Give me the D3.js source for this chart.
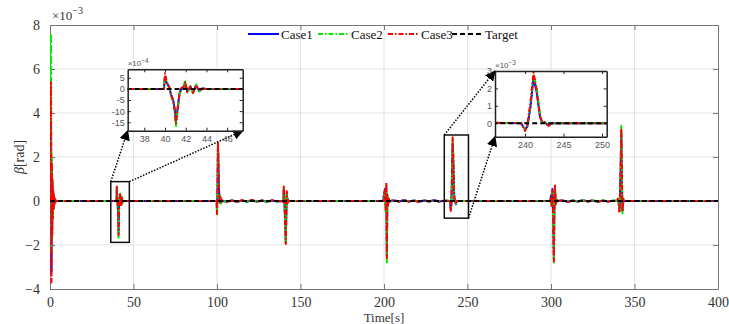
<!DOCTYPE html>
<html>
<head>
<meta charset="utf-8">
<script src="https://cdn.jsdelivr.net/npm/d3@7/dist/d3.min.js"></script>
<style>
  body { margin: 0; background: #fff; }
  svg { display: block; }
</style>
</head>
<body>
<div id="chart"></div>
<script>
// values are in units of 1e-3 rad (axis carries the x10^-3 exponent)
const time = [
  0, 0.6, 0.9, 1.1, 1.3, 1.5, 1.7, 1.9, 2.1, 2.3, 2.5, 2.7, 2.9, 3.1, 3.3, 3.5, 3.8, 4.2, 4.6,
  39.9, 40.0, 40.15, 40.4, 40.6, 40.8, 40.95, 41.05, 41.2, 41.4, 41.6, 41.8, 41.95, 42.15, 42.45, 42.7, 43.0, 43.3, 43.6, 44.0, 44.5,
  99.8, 100.0, 100.3, 100.6, 100.9, 101.2, 101.5, 101.8, 102.1, 102.5, 102.9, 103.3,
  106, 109, 112, 115, 118, 121, 124, 127, 130, 133, 136,
  139.8, 140.0, 140.3, 140.6, 140.9, 141.2, 141.5, 141.8, 142.1, 142.4, 142.8, 143.2,
  199.6, 200.0, 200.6, 201.0, 201.4, 201.7, 202.0, 202.4, 202.8, 203.2, 203.6,
  206, 209, 212, 215, 218, 221, 224, 227, 230, 233, 236,
  239.5, 240.0, 240.3, 240.7, 241.1, 241.5, 241.95, 242.2, 242.6, 243.05, 243.5, 244.0,
  299.6, 300.0, 300.5, 300.9, 301.3, 301.7, 302.0, 302.4, 302.8, 303.2, 303.6, 304.0,
  307, 310, 313, 316, 319, 322, 325, 328, 331, 334, 337,
  339.6, 340.0, 340.5, 341.0, 341.3, 341.7, 342.1, 342.5, 342.8, 343.2, 343.6, 344.0,
  400
];
const case1 = [
  0, 3.4, -3.2, 1.6, -1.5, 0.8, -0.7, 0.4, -0.35, 0.2, -0.15, 0.1, -0.08, 0.05, -0.03, 0.02, 0, 0, 0,
  0, 0.55, 0.28, 0.08, -0.28, -0.52, -0.95, -1.45, -0.95, -0.2, 0.02, 0.08, 0.25, -0.12, 0.1, -0.15, 0.15, -0.08, 0.02, 0, 0,
  0, -0.5, 0.45, 2.5, 1.5, 0.45, 0.1, -0.08, 0.12, -0.08, 0.04, 0,
  -0.02, 0.02, -0.03, 0.02, -0.02, 0.03, -0.02, 0.02, -0.03, 0.02, -0.01,
  0, 0.55, 0.08, -0.45, -1.1, -1.85, -0.55, 0.38, -0.08, 0.1, -0.03, 0,
  0, 0.3, 0.55, -0.3, 0.6, -2.5, 0.2, -0.15, 0.1, -0.04, 0,
  0.02, -0.02, 0.03, -0.02, 0.02, -0.03, 0.02, -0.02, 0.03, -0.02, 0.01,
  0, -0.38, -0.2, 0.9, 2.6, 1.8, 0.35, 0.05, 0.02, -0.15, 0, 0,
  0, 0.25, -0.2, 0.55, -0.7, -2.5, -0.4, 0.5, -0.1, 0.08, -0.02, 0,
  0.02, -0.03, 0.02, -0.02, 0.03, -0.02, 0.02, -0.03, 0.02, -0.02, 0.01,
  0, 0.08, -0.08, -0.45, 0.25, 1.4, 3.1, 0.7, -0.45, 0.1, -0.02, 0,
  0
];
const case2 = [
  0, 7.6, -2.4, 2.0, -1.2, 0.9, -0.8, 0.5, -0.4, 0.25, -0.2, 0.12, -0.1, 0.06, -0.04, 0.02, 0, 0, 0,
  0, 0.62, 0.30, 0.05, -0.3, -0.6, -1.1, -1.72, -1.05, -0.25, 0.0, 0.1, 0.40, -0.18, 0.15, -0.2, 0.2, -0.12, 0.03, -0.02, 0,
  0, -0.55, 0.4, 2.6, 1.7, 0.6, 0.2, -0.15, 0.2, -0.12, 0.05, 0,
  -0.03, 0.04, -0.04, 0.03, -0.04, 0.04, -0.03, 0.04, -0.04, 0.03, -0.02,
  0, 0.6, 0.05, -0.55, -1.3, -2.0, -0.7, 0.4, -0.12, 0.1, -0.03, 0,
  0, 0.25, 0.4, -0.5, 0.7, -2.8, 0.25, -0.2, 0.1, -0.05, 0,
  0.03, -0.04, 0.04, -0.03, 0.04, -0.04, 0.03, -0.04, 0.04, -0.03, 0.02,
  0, -0.35, -0.15, 1.0, 2.8, 2.1, 0.5, 0.0, 0.05, -0.12, 0, 0,
  0, 0.15, -0.3, 0.4, -0.9, -2.8, -0.6, 0.6, -0.2, 0.1, -0.03, 0,
  0.03, -0.04, 0.03, -0.03, 0.04, -0.03, 0.04, -0.04, 0.03, -0.03, 0.02,
  0, 0.1, -0.1, -0.5, 0.2, 1.3, 3.42, 0.9, -0.62, 0.1, -0.03, 0,
  0
];
const case3 = [
  0, 5.4, -3.7, 1.8, -1.6, 1.0, -0.8, 0.5, -0.4, 0.3, -0.2, 0.15, -0.1, 0.05, -0.03, 0.02, 0, 0, 0,
  0, 0.70, 0.35, 0.1, -0.3, -0.56, -1.0, -1.55, -1.0, -0.2, 0.05, 0.1, 0.3, -0.15, 0.12, -0.18, 0.18, -0.1, 0.02, 0, 0,
  0, -0.6, 0.5, 2.7, 1.6, 0.5, 0.15, -0.1, 0.15, -0.1, 0.05, 0,
  -0.04, 0.03, -0.05, 0.04, -0.03, 0.05, -0.04, 0.03, -0.05, 0.04, -0.02,
  0, 0.66, 0.1, -0.5, -1.2, -1.95, -0.6, 0.44, -0.1, 0.12, -0.04, 0,
  0, 0.3, 0.5, -0.4, 0.85, -2.6, 0.3, -0.2, 0.15, -0.05, 0,
  0.04, -0.03, 0.05, -0.04, 0.03, -0.05, 0.04, -0.03, 0.05, -0.04, 0.02,
  0, -0.45, -0.1, 1.2, 2.9, 1.9, 0.4, 0.1, 0.05, -0.15, 0, 0,
  0, 0.2, -0.3, 0.5, -0.8, -2.75, -0.5, 0.7, -0.15, 0.1, -0.03, 0,
  0.04, -0.05, 0.03, -0.04, 0.05, -0.03, 0.04, -0.05, 0.03, -0.04, 0.02,
  0, 0.1, -0.1, -0.55, 0.3, 1.5, 3.3, 0.8, -0.5, 0.15, -0.03, 0,
  0
];
const targetTime = [0, 400];
const target = [0, 0];

const seriesNames = ["Case1", "Case2", "Case3", "Target"];
const xTicks = [0, 50, 100, 150, 200, 250, 300, 350, 400];
const yTicks = [-4, -2, 0, 2, 4, 6, 8];
const inset1XTicks = [38, 40, 42, 44, 46];
const inset1YTicks = [-1.5, -1.0, -0.5, 0, 0.5];   // shown as x10^-4
const inset2XTicks = [240, 245, 250];
const inset2YTicks = [0, 1, 2, 3];

const W = 729, H = 324;
const m = {left: 50, right: 718, top: 25, bottom: 289};

const styles = {
  Case1: {color: "#0000ff", dash: null},
  Case2: {color: "#00ee00", dash: "5,2,1.5,2"},
  Case3: {color: "#ff0000", dash: "5,2,1.5,2"},
  Target: {color: "#000000", dash: "5,3"}
};

const series = [
  {name: "Case1", pts: d3.zip(time, case1)},
  {name: "Case2", pts: d3.zip(time, case2)},
  {name: "Case3", pts: d3.zip(time, case3)},
  {name: "Target", pts: d3.zip(targetTime, target)}
];

const svg = d3.select("#chart").append("svg")
  .attr("width", W).attr("height", H);

const x = d3.scaleLinear().domain([0, 400]).range([m.left, m.right]);
const y = d3.scaleLinear().domain([-4, 8]).range([m.bottom, m.top]);

const serif = "'Liberation Serif', 'Times New Roman', serif";
const sans = "'Liberation Sans', Arial, sans-serif";
const fmtMinus = v => (v < 0 ? "\u2212" + Math.abs(v) : String(v));

// grid
const grid = svg.append("g").attr("stroke", "#e3e3e3").attr("stroke-width", 1);
grid.selectAll("line.vx").data(xTicks.slice(1, -1)).join("line")
  .attr("x1", d => x(d)).attr("x2", d => x(d)).attr("y1", m.top).attr("y2", m.bottom);
grid.selectAll("line.hy").data(yTicks.slice(1, -1)).join("line")
  .attr("y1", d => y(d)).attr("y2", d => y(d)).attr("x1", m.left).attr("x2", m.right);

// clip
svg.append("clipPath").attr("id", "clipMain").append("rect")
  .attr("x", m.left).attr("y", m.top).attr("width", m.right - m.left).attr("height", m.bottom - m.top);

function drawLines(g, xs, ys, width) {
  const line = d3.line().x(d => xs(d[0])).y(d => ys(d[1]));
  series.forEach(s => {
    g.append("path")
      .datum(s.pts)
      .attr("d", line)
      .attr("fill", "none")
      .attr("stroke", styles[s.name].color)
      .attr("stroke-width", width)
      .attr("stroke-dasharray", styles[s.name].dash)
      .attr("stroke-linejoin", "round");
  });
}

// axes box with inward ticks on all sides
const axisColor = "#777";
const axB = svg.append("g").attr("transform", `translate(0,${m.bottom})`)
  .call(d3.axisBottom(x).tickValues(xTicks).tickSizeInner(-5).tickSizeOuter(0).tickPadding(8).tickFormat(d3.format("d")));
const axT = svg.append("g").attr("transform", `translate(0,${m.top})`)
  .call(d3.axisTop(x).tickValues(xTicks).tickSizeInner(-5).tickSizeOuter(0).tickFormat(""));
const axL = svg.append("g").attr("transform", `translate(${m.left},0)`)
  .call(d3.axisLeft(y).tickValues(yTicks).tickSizeInner(-5).tickSizeOuter(0).tickPadding(10).tickFormat(fmtMinus));
const axR = svg.append("g").attr("transform", `translate(${m.right},0)`)
  .call(d3.axisRight(y).tickValues(yTicks).tickSizeInner(-5).tickSizeOuter(0).tickFormat(""));
[axB, axT, axL, axR].forEach(a => {
  a.selectAll("path").attr("stroke", axisColor);
  a.selectAll("line").attr("stroke", axisColor);
  a.selectAll("text").attr("font-family", serif).attr("font-size", 14).attr("fill", "#333");
});

drawLines(svg.append("g").attr("clip-path", "url(#clipMain)"), x, y, 2);

// exponent label
const ex = svg.append("text").attr("x", m.left + 2).attr("y", 20)
  .attr("font-family", serif).attr("font-size", 13).attr("fill", "#333");
ex.append("tspan").text("\u00d710");
ex.append("tspan").attr("dy", -6).attr("font-size", 10).text("\u22123");

// axis titles
svg.append("text").attr("x", (m.left + m.right) / 2).attr("y", 322)
  .attr("text-anchor", "middle").attr("font-family", serif).attr("font-size", 13).attr("fill", "#333")
  .text("Time[s]");
const yl = svg.append("text").attr("transform", `translate(24,${(m.top + m.bottom) / 2}) rotate(-90)`)
  .attr("text-anchor", "middle").attr("font-family", serif).attr("font-size", 14).attr("fill", "#333");
yl.append("tspan").attr("font-style", "italic").text("\u03b2");
yl.append("tspan").text("[rad]");

// legend
const legendX = [248, 318, 388, 452];
const lg = svg.append("g");
seriesNames.forEach((n, i) => {
  const gx = legendX[i];
  lg.append("line").attr("x1", gx).attr("x2", gx + 31).attr("y1", 34).attr("y2", 34)
    .attr("stroke", styles[n].color).attr("stroke-width", 2).attr("stroke-dasharray", styles[n].dash);
  lg.append("text").attr("x", gx + 33).attr("y", 38.5)
    .attr("font-family", serif).attr("font-size", 13).attr("fill", "#111").text(n);
});

// zoom rectangles, arrows and insets
svg.append("defs").append("marker")
  .attr("id", "arrow").attr("viewBox", "0 0 10 10").attr("refX", 9).attr("refY", 5)
  .attr("markerWidth", 7).attr("markerHeight", 7).attr("orient", "auto-start-reverse")
  .append("path").attr("d", "M0,0 L10,5 L0,10 z").attr("fill", "#000");

const insets = [
  {id: "in1", xd: [36.4, 47.5], yd: [-1.88, 0.88], box: [127.7, 69.3, 242.7, 130.7],
   xt: inset1XTicks, yt: inset1YTicks, yfmt: d => String(Math.round(d * 10)), exp: "\u22124",
   arrows: [["x0", "y1", "x0", "y1"], ["x1", "y1", "x1", "y1"]]},
  {id: "in2", xd: [236.1, 250.6], yd: [-0.78, 3.0], box: [495, 71, 606.7, 136.7],
   xt: inset2XTicks, yt: inset2YTicks, yfmt: d => String(d), exp: "\u22123",
   arrows: [["x0", "y1", "x0", "y0"], ["x1", "y0", "x0", "y1"]]}
];

insets.forEach(ins => {
  const rx0 = x(ins.xd[0]), rx1 = x(ins.xd[1]), ry1 = y(ins.yd[1]), ry0 = y(ins.yd[0]);
  // ry1 = top of rect, ry0 = bottom of rect
  svg.append("rect").attr("x", rx0).attr("y", ry1).attr("width", rx1 - rx0).attr("height", ry0 - ry1)
    .attr("fill", "none").attr("stroke", "#111").attr("stroke-width", 1.5);

  const [bx0, by0, bx1, by1] = ins.box;
  const rc = {x0: rx0, x1: rx1, y1: ry1, y0: ry0};
  const bc = {x0: bx0, x1: bx1, y0: by0, y1: by1};
  ins.arrows.forEach(a => {
    svg.append("line")
      .attr("x1", rc[a[0]]).attr("y1", rc[a[1]])
      .attr("x2", bc[a[2]]).attr("y2", bc[a[3]])
      .attr("stroke", "#000").attr("stroke-width", 1.5).attr("stroke-dasharray", "1.5,1.5")
      .attr("marker-end", "url(#arrow)");
  });

  const ix = d3.scaleLinear().domain(ins.xd).range([bx0, bx1]);
  const iy = d3.scaleLinear().domain(ins.yd).range([by1, by0]);
  const g = svg.append("g");
  g.append("rect").attr("x", bx0).attr("y", by0).attr("width", bx1 - bx0).attr("height", by1 - by0)
    .attr("fill", "#fff");
  g.append("clipPath").attr("id", "clip" + ins.id).append("rect")
    .attr("x", bx0).attr("y", by0).attr("width", bx1 - bx0).attr("height", by1 - by0);
  drawLines(g.append("g").attr("clip-path", `url(#clip${ins.id})`), ix, iy, 2);

  const iaxB = g.append("g").attr("transform", `translate(0,${by1})`)
    .call(d3.axisBottom(ix).tickValues(ins.xt).tickSizeInner(-3).tickSizeOuter(0).tickPadding(5).tickFormat(d3.format("d")));
  const iaxT = g.append("g").attr("transform", `translate(0,${by0})`)
    .call(d3.axisTop(ix).tickValues(ins.xt).tickSizeInner(-3).tickSizeOuter(0).tickFormat(""));
  const iaxL = g.append("g").attr("transform", `translate(${bx0},0)`)
    .call(d3.axisLeft(iy).tickValues(ins.yt).tickSizeInner(-3).tickSizeOuter(0).tickPadding(3).tickFormat(ins.yfmt));
  const iaxR = g.append("g").attr("transform", `translate(${bx1},0)`)
    .call(d3.axisRight(iy).tickValues(ins.yt).tickSizeInner(-3).tickSizeOuter(0).tickFormat(""));
  [iaxB, iaxT, iaxL, iaxR].forEach(a => {
    a.selectAll("path").attr("stroke", "#222").attr("stroke-width", 1.5);
    a.selectAll("line").attr("stroke", "#222");
    a.selectAll("text").attr("font-family", sans).attr("font-size", 9).attr("fill", "#555");
  });
  const e = g.append("text").attr("x", bx0).attr("y", by0 - 3)
    .attr("font-family", sans).attr("font-size", 8).attr("fill", "#555");
  e.append("tspan").text("\u00d710");
  e.append("tspan").attr("dy", -3).attr("font-size", 6.5).text(ins.exp);
});
</script>
</body>
</html>
